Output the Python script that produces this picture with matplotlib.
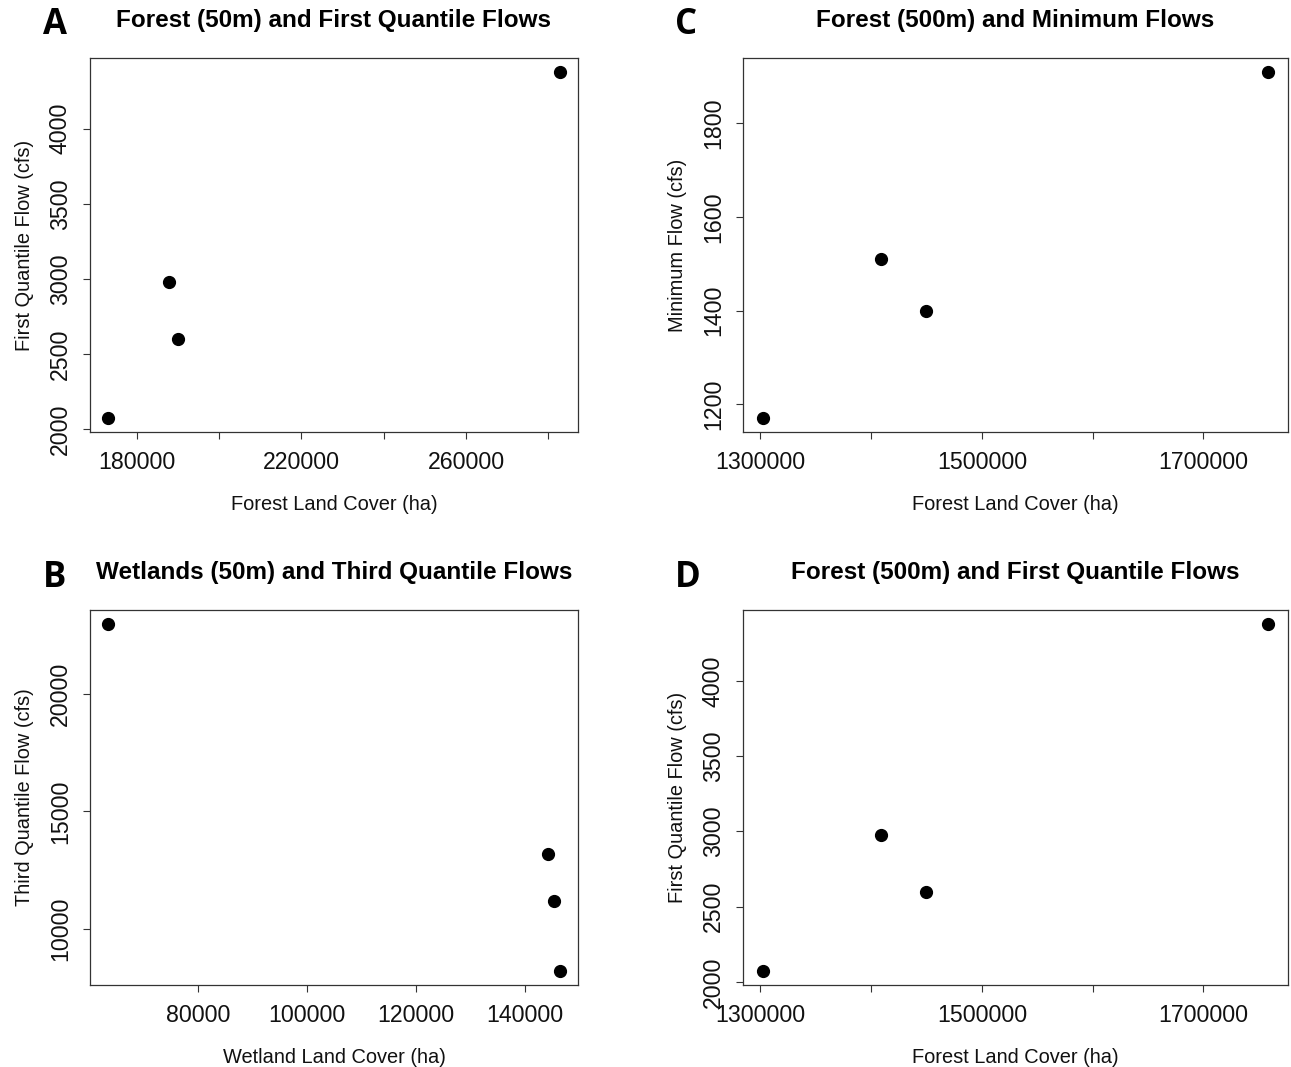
import matplotlib
matplotlib.use("Agg")
import matplotlib.pyplot as plt
from matplotlib.ticker import FixedLocator, FixedFormatter

plt.rcParams['font.family'] = ['Liberation Sans', 'DejaVu Sans']

# Panel A: Forest (50m) vs first quantile flow
forest50 = [173000, 187900, 190000, 282800]
q1_flow = [2073, 2979, 2601, 4378]

# Panel B: Wetlands (50m) vs third quantile flow
wetland50 = [63500, 144400, 145400, 146500]
q3_flow = [23000, 13180, 11180, 8190]

# Panels C and D: Forest (500m)
forest500 = [1302600, 1408900, 1450000, 1758200]
min_flow = [1170, 1511, 1399, 1910]

W, H = 1291, 1067
fig = plt.figure(figsize=(W / 100, H / 100), dpi=100)


def px_axes(left, right, top, bottom):
    return fig.add_axes([left / W, 1 - bottom / H, (right - left) / W, (bottom - top) / H])


def panel(ax, x, y, title, letter, letter_xy, xlabel, ylabel, xticks, xlabels, yticks):
    ax.plot(x, y, 'o', color='black', markersize=8.5)
    ax.margins(0.04)
    ax.xaxis.set_major_locator(FixedLocator(xticks))
    ax.xaxis.set_major_formatter(FixedFormatter(xlabels))
    ax.yaxis.set_major_locator(FixedLocator(yticks))
    ax.yaxis.set_major_formatter(FixedFormatter([str(v) for v in yticks]))
    ax.tick_params(axis='both', direction='out', length=5, width=0.8,
                   color='#333333', labelsize=16.7, labelcolor='#111111')
    ax.tick_params(axis='x', pad=9)
    ax.tick_params(axis='y', pad=8)
    for lbl in ax.get_yticklabels():
        lbl.set_rotation(90)
        lbl.set_va('center')
    for sp in ax.spines.values():
        sp.set_linewidth(0.9)
        sp.set_color('#333333')
    ax.set_xlabel(xlabel, fontsize=14.4, labelpad=15, color='#111111')
    ax.set_ylabel(ylabel, fontsize=14.4, labelpad=11, color='#111111')
    ax.set_title(title, fontsize=17.5, fontweight='bold', pad=22)
    fig.text(letter_xy[0] / W, 1 - letter_xy[1] / H, letter, fontsize=25,
             fontweight='bold', family='Open Sans', ha='center', va='center')


axA = px_axes(90, 578, 58, 432)
panel(axA, forest50, q1_flow, 'Forest (50m) and First Quantile Flows', 'A', (55, 25),
      'Forest Land Cover (ha)', 'First Quantile Flow (cfs)',
      [180000, 200000, 220000, 240000, 260000, 280000],
      ['180000', '', '220000', '', '260000', ''],
      [2000, 2500, 3000, 3500, 4000])

axC = px_axes(743, 1288, 58, 432)
panel(axC, forest500, min_flow, 'Forest (500m) and Minimum Flows', 'C', (686, 25),
      'Forest Land Cover (ha)', 'Minimum Flow (cfs)',
      [1300000, 1400000, 1500000, 1600000, 1700000],
      ['1300000', '', '1500000', '', '1700000'],
      [1200, 1400, 1600, 1800])

axB = px_axes(90, 578, 610, 985)
panel(axB, wetland50, q3_flow, 'Wetlands (50m) and Third Quantile Flows', 'B', (55, 578),
      'Wetland Land Cover (ha)', 'Third Quantile Flow (cfs)',
      [80000, 100000, 120000, 140000],
      ['80000', '100000', '120000', '140000'],
      [10000, 15000, 20000])

axD = px_axes(743, 1288, 610, 985)
panel(axD, forest500, q1_flow, 'Forest (500m) and First Quantile Flows', 'D', (688, 578),
      'Forest Land Cover (ha)', 'First Quantile Flow (cfs)',
      [1300000, 1400000, 1500000, 1600000, 1700000],
      ['1300000', '', '1500000', '', '1700000'],
      [2000, 2500, 3000, 3500, 4000])

fig.savefig('out.png', dpi=100)
